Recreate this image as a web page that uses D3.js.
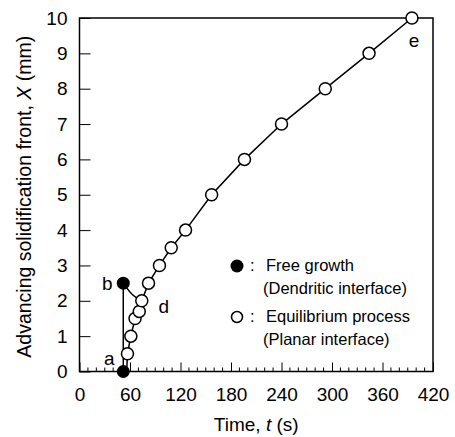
<!DOCTYPE html>
<html>
<head>
<meta charset="utf-8">
<script src="https://cdn.jsdelivr.net/npm/d3@7"></script>
<style>
  body { margin: 0; background: #fff; }
  svg text { font-family: "Liberation Sans", Arial, Helvetica, sans-serif; fill: #000; }
</style>
</head>
<body>
<div id="chart"></div>
<script>
// Equilibrium process (open circles), time in s, front in mm
var eqTime  = [56, 57, 61, 66, 71, 74, 82, 95, 109, 126, 157, 196, 240, 292, 344, 395];
var eqFront = [0, 0.5, 1, 1.5, 1.7, 2, 2.5, 3, 3.5, 4, 5, 6, 7, 8, 9, 10];
var eqMarker = [false, true, true, true, true, true, true, true, true, true, true, true, true, true, true, true];

// Free growth (filled circles)
var freeTime  = [52, 52];
var freeFront = [0, 2.5];

// Curve from b towards d
var bdTime  = [52, 63, 74];
var bdFront = [2.5, 2.17, 2.0];

// Point labels
var pointLabels = [
  {text: "a", t: 52, x: 0,   dx: -14, dy: -7},
  {text: "b", t: 52, x: 2.5, dx: -16, dy: 7},
  {text: "d", t: 74, x: 2.0, dx: 22,  dy: 12},
  {text: "e", t: 395, x: 10, dx: 2,   dy: 29}
];

var xTicks = [0, 60, 120, 180, 240, 300, 360, 420];
var yTicks = [0, 1, 2, 3, 4, 5, 6, 7, 8, 9, 10];

var width = 455, height = 437;
var margin = {left: 79.5, right: 22, top: 18, bottom: 65.5};

var svg = d3.select("#chart").append("svg")
    .attr("width", width)
    .attr("height", height);

var x = d3.scaleLinear().domain([0, 420]).range([margin.left, width - margin.right]);
var y = d3.scaleLinear().domain([0, 10]).range([height - margin.bottom, margin.top]);

// Frame
svg.append("rect")
    .attr("x", x(0)).attr("y", y(10))
    .attr("width", x(420) - x(0)).attr("height", y(0) - y(10))
    .attr("fill", "none").attr("stroke", "#000").attr("stroke-width", 1.5);

// Minor x ticks (every 10 s)
var minor = d3.range(0, 421, 10).filter(function(d) { return d % 60 !== 0; });
svg.append("g").selectAll("line").data(minor).enter().append("line")
    .attr("x1", function(d) { return x(d); }).attr("x2", function(d) { return x(d); })
    .attr("y1", y(0)).attr("y2", y(0) - 4)
    .attr("stroke", "#000").attr("stroke-width", 1);

// X axis (major ticks inward)
var xAxis = svg.append("g")
    .attr("transform", "translate(0," + y(0) + ")")
    .call(d3.axisBottom(x).tickValues(xTicks).tickSize(-9).tickPadding(16));
xAxis.select(".domain").remove();
xAxis.selectAll("line").attr("stroke-width", 1);
xAxis.selectAll("text").attr("font-size", "19px").attr("font-family", "Liberation Sans, Arial, sans-serif");

// Y axis
var yAxis = svg.append("g")
    .attr("transform", "translate(" + x(0) + ",0)")
    .call(d3.axisLeft(y).tickValues(yTicks).tickSize(-11).tickPadding(12));
yAxis.select(".domain").remove();
yAxis.selectAll("line").attr("stroke-width", 1);
yAxis.selectAll("text").attr("font-size", "19px").attr("font-family", "Liberation Sans, Arial, sans-serif");

// Axis titles
var xt = svg.append("text")
    .attr("x", (x(0) + x(420)) / 2).attr("y", 431)
    .attr("text-anchor", "middle").attr("font-size", "19px");
xt.append("tspan").text("Time, ");
xt.append("tspan").attr("font-style", "italic").text("t");
xt.append("tspan").text(" (s)");

var yt = svg.append("text")
    .attr("transform", "translate(31," + (y(5) + 2) + ") rotate(-90)")
    .attr("text-anchor", "middle").attr("font-size", "19.5px");
yt.append("tspan").text("Advancing solidification front, ");
yt.append("tspan").attr("font-style", "italic").text("X");
yt.append("tspan").text(" (mm)");

var line = d3.line()
    .x(function(d) { return x(d[0]); })
    .y(function(d) { return y(d[1]); });

// b to a vertical line
svg.append("path")
    .datum(freeTime.map(function(t, i) { return [t, freeFront[i]]; }))
    .attr("d", line).attr("fill", "none").attr("stroke", "#000").attr("stroke-width", 1.5);

// b to d curve
svg.append("path")
    .datum(bdTime.map(function(t, i) { return [t, bdFront[i]]; }))
    .attr("d", line.curve(d3.curveNatural)).attr("fill", "none").attr("stroke", "#000").attr("stroke-width", 1.5);
line.curve(d3.curveLinear);

// Equilibrium line
var eqData = eqTime.map(function(t, i) { return [t, eqFront[i], eqMarker[i]]; });
svg.append("path")
    .datum(eqData)
    .attr("d", line).attr("fill", "none").attr("stroke", "#000").attr("stroke-width", 1.5);

svg.append("g").selectAll("circle").data(eqData.filter(function(d) { return d[2]; })).enter().append("circle")
    .attr("cx", function(d) { return x(d[0]); })
    .attr("cy", function(d) { return y(d[1]); })
    .attr("r", 6)
    .attr("fill", "#fff").attr("stroke", "#000").attr("stroke-width", 1.5);

svg.append("g").selectAll("circle").data(freeTime).enter().append("circle")
    .attr("cx", function(d) { return x(d); })
    .attr("cy", function(d, i) { return y(freeFront[i]); })
    .attr("r", 6.5)
    .attr("fill", "#000");

// Point labels
svg.append("g").selectAll("text").data(pointLabels).enter().append("text")
    .attr("x", function(d) { return x(d.t) + d.dx; })
    .attr("y", function(d) { return y(d.x) + d.dy; })
    .attr("text-anchor", "middle")
    .attr("font-size", "19px")
    .text(function(d) { return d.text; });

// Legend
var legend = svg.append("g");
legend.append("circle").attr("cx", 237).attr("cy", 266).attr("r", 6.5).attr("fill", "#000");
legend.append("circle").attr("cx", 237).attr("cy", 317).attr("r", 5.5)
    .attr("fill", "#fff").attr("stroke", "#000").attr("stroke-width", 1.5);
var legendRows = [
  {text: ":", x: 250, y: 271},
  {text: "Free growth", x: 266, y: 271},
  {text: "(Dendritic interface)", x: 263, y: 294},
  {text: ":", x: 250, y: 322},
  {text: "Equilibrium process", x: 266, y: 322},
  {text: "(Planar interface)", x: 263, y: 345}
];
legend.selectAll("text").data(legendRows).enter().append("text")
    .attr("x", function(d) { return d.x; })
    .attr("y", function(d) { return d.y; })
    .attr("font-size", "16.5px")
    .text(function(d) { return d.text; });
</script>
</body>
</html>
